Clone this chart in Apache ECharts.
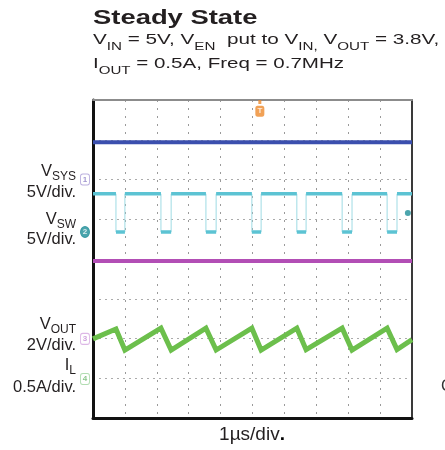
<!DOCTYPE html>
<html><head><meta charset="utf-8">
<script src="https://cdn.jsdelivr.net/npm/echarts@6/dist/echarts.min.js"></script>
<style>html,body{margin:0;padding:0;background:#fff}#c{width:445px;height:450px}</style>
</head><body><div id="c"></div>
<script>
// Horizontal: time in µs (1 µs/div, 10 divisions). Vertical: scope screen divisions from the bottom (8 divisions).
const timeRange = [0, 10];
const divRange = [0, 8];
const vinLevel = 6.94;          // dark blue trace
const midLevel = 3.95;          // magenta trace
const swHigh = 5.64;            // cyan switching node, high level
const swLow = 4.68;             // cyan switching node, low level
const swFallTimes = [0.72, 2.13, 3.54, 4.98, 6.39, 7.81, 9.22];
const swRiseTimes = [1.00, 2.45, 3.86, 5.27, 6.68, 8.12, 9.53];
const ilStart = 1.99;
const ilEnd = 1.97;
const ilPeaks = [2.24, 2.26, 2.26, 2.26, 2.26, 2.26, 2.26];
const ilTroughs = [1.71, 1.71, 1.71, 1.71, 1.72, 1.71, 1.72];
const channelNames = ['1', '2', '3', '4'];
const channelLevels = [6.0, 4.68, 1.99, 0.98];
const triggerPos = [5.23, 7.72];
const trigLevelPos = [9.87, 5.16];

// build waveforms from the arrays
const swEdges = [[timeRange[0], swHigh]];
swFallTimes.forEach((f, i) => {
  swEdges.push([f, swHigh], [f, swLow], [swRiseTimes[i], swLow], [swRiseTimes[i], swHigh]);
});
swEdges.push([timeRange[1], swHigh]);

const swSegs = [[timeRange[0], swHigh]];
swFallTimes.forEach((f, i) => {
  const r = swRiseTimes[i];
  swSegs.push([f, swHigh], [f, '-'], [f, swLow], [r, swLow], [r, '-'], [r, swHigh]);
});
swSegs.push([timeRange[1], swHigh]);

const ilData = [[timeRange[0], ilStart]];
swFallTimes.forEach((f, i) => {
  ilData.push([f, ilPeaks[i]], [swRiseTimes[i], ilTroughs[i]]);
});
ilData.push([timeRange[1], ilEnd]);

const FONT = '"Liberation Sans", Arial, Helvetica, sans-serif';
const TXT = '#231f20';

const markerStyles = [
  {symbol: 'roundRect', itemStyle: {color: '#ffffff', borderColor: '#a99bd6', borderWidth: 1}, label: {color: '#8a7cc4'}},
  {symbol: 'circle', itemStyle: {color: '#1f8e98', borderColor: '#1f8e98', borderWidth: 1}, label: {color: '#ffffff'}},
  {symbol: 'roundRect', itemStyle: {color: '#ffffff', borderColor: '#d4a6e0', borderWidth: 1}, label: {color: '#c48bd6'}},
  {symbol: 'roundRect', itemStyle: {color: '#ffffff', borderColor: '#9fd49f', borderWidth: 1}, label: {color: '#6fb86f'}}
];

const mainRich = (size) => ({fontSize: size, fontFamily: FONT, lineHeight: Math.round(size * 1.2), verticalAlign: 'top', fill: TXT, color: TXT});
const subRich = (size, pad) => ({fontSize: size, fontFamily: FONT, lineHeight: size + 1, padding: [pad, 0, 0, 0], verticalAlign: 'top', fill: TXT, color: TXT});

function leftLabel(main, sub, y, x) {
  return {type: 'text', x: x, y: y, style: {
    text: '{m|' + main + '}{s|' + sub + '}', align: 'right', verticalAlign: 'top',
    rich: {m: mainRich(16.5), s: subRich(12, 8)}
  }};
}
function leftScale(t, y) {
  return {type: 'text', x: 76, y: y, style: {text: t, font: '16.5px ' + FONT, fill: TXT, align: 'right', verticalAlign: 'middle'}};
}

const chart = echarts.init(document.getElementById('c'), null, {renderer: 'canvas'});
const hideAxis = {axisLabel: {show: false}, axisTick: {show: false}};
chart.setOption({
  animation: false,
  backgroundColor: '#ffffff',
  grid: {left: 93, top: 100, width: 319, height: 318, containLabel: false},
  xAxis: [
    Object.assign({type: 'value', min: timeRange[0], max: timeRange[1], interval: 1, position: 'bottom',
      axisLine: {show: true, onZero: false, lineStyle: {color: '#111', width: 3}},
      splitLine: {show: true, lineStyle: {color: '#9a9a9a', width: 1, type: [2, 6]}}}, hideAxis),
    Object.assign({type: 'value', min: timeRange[0], max: timeRange[1], position: 'top',
      axisLine: {show: true, onZero: false, lineStyle: {color: '#8c8c8c', width: 2}},
      splitLine: {show: false}}, hideAxis)
  ],
  yAxis: [
    Object.assign({type: 'value', min: divRange[0], max: divRange[1], interval: 1, position: 'left',
      axisLine: {show: true, onZero: false, lineStyle: {color: '#111', width: 3}},
      splitLine: {show: true, lineStyle: {color: '#ababab', width: 1, type: [2, 4]}}}, hideAxis),
    Object.assign({type: 'value', min: divRange[0], max: divRange[1], position: 'right',
      axisLine: {show: true, onZero: false, lineStyle: {color: '#3a3a3a', width: 2}},
      splitLine: {show: false}}, hideAxis)
  ],
  series: [
    {type: 'line', name: 'blue', data: [[timeRange[0], vinLevel], [timeRange[1], vinLevel]], symbol: 'none',
      lineStyle: {color: '#3b4fae', width: 4}, z: 3},
    {type: 'line', name: 'magenta', data: [[timeRange[0], midLevel], [timeRange[1], midLevel]], symbol: 'none',
      lineStyle: {color: '#b24eb5', width: 4}, z: 3},
    {type: 'line', name: 'swEdges', data: swEdges, symbol: 'none',
      lineStyle: {color: '#9fdbe4', width: 1}, z: 3},
    {type: 'line', name: 'swSegs', data: swSegs, symbol: 'none', connectNulls: false,
      lineStyle: {color: '#5cc3d3', width: 3.5}, z: 4},
    {type: 'line', name: 'IL', data: ilData, symbol: 'none',
      lineStyle: {color: '#6cbf4c', width: 5, join: 'miter'}, z: 4},
    {type: 'scatter', name: 'channels', clip: false, z: 6, symbolSize: [9, 11], symbolOffset: [-8, 0],
      label: {show: true, position: 'inside', fontSize: 8, fontWeight: 'bold', fontFamily: FONT, formatter: (p) => p.data.name},
      data: channelNames.map((n, i) => Object.assign({name: n, value: [timeRange[0], channelLevels[i]]}, markerStyles[i]))},
    {type: 'scatter', name: 'trigger', clip: false, z: 6, symbol: 'roundRect', symbolSize: [9, 11],
      itemStyle: {color: '#ee8a2c'},
      label: {show: true, position: 'inside', formatter: 'T', color: '#fff', fontSize: 8, fontWeight: 'bold', fontFamily: FONT},
      data: [triggerPos]},
    {type: 'scatter', name: 'trigTop', clip: false, z: 6, symbol: 'rect', symbolSize: [3, 4], symbolOffset: [0, 2],
      itemStyle: {color: '#ee8a2c'}, data: [[triggerPos[0], divRange[1]]]},
    {type: 'scatter', name: 'trigLevel', clip: false, z: 6, symbol: 'circle', symbolSize: 6,
      itemStyle: {color: '#1f8e98'}, data: [trigLevelPos]}
  ],
  graphic: [
    {type: 'text', x: 93, y: 8, scaleX: 1.37, style: {text: 'Steady State', font: 'bold 20px ' + FONT, fill: TXT, verticalAlign: 'top'}},
    {type: 'text', x: 93, y: 32, scaleX: 1.38, style: {
      text: '{m|V}{s|IN}{m| = 5V, V}{s|EN}{m|  put to V}{s|IN,}{m| V}{s|OUT}{m| = 3.8V,}', verticalAlign: 'top',
      rich: {m: mainRich(15), s: subRich(11, 9)}}},
    {type: 'text', x: 93, y: 56, scaleX: 1.37, style: {
      text: '{m|I}{s|OUT}{m| = 0.5A, Freq = 0.7MHz}', verticalAlign: 'top',
      rich: {m: mainRich(15), s: subRich(11, 9)}}},
    leftLabel('V', 'SYS', 163, 76), leftScale('5V/div.', 192),
    leftLabel('V', 'SW', 211, 76), leftScale('5V/div.', 239),
    leftLabel('V', 'OUT', 316, 76), leftScale('2V/div.', 345),
    leftLabel('I', 'L', 357, 76), leftScale('0.5A/div.', 387.5),
    {type: 'text', x: 252, y: 435, style: {text: '{a|1µs/div}{b|.}', align: 'center', verticalAlign: 'middle',
      rich: {a: {fontSize: 19, fontFamily: FONT, fill: TXT, color: TXT}, b: {fontSize: 19, fontWeight: 'bold', fontFamily: FONT, fill: '#000', color: '#000'}}}},
    {type: 'text', x: 441, y: 387, style: {text: 'C', font: '16px ' + FONT, fill: '#333', verticalAlign: 'middle'}}
  ]
});
</script></body></html>
